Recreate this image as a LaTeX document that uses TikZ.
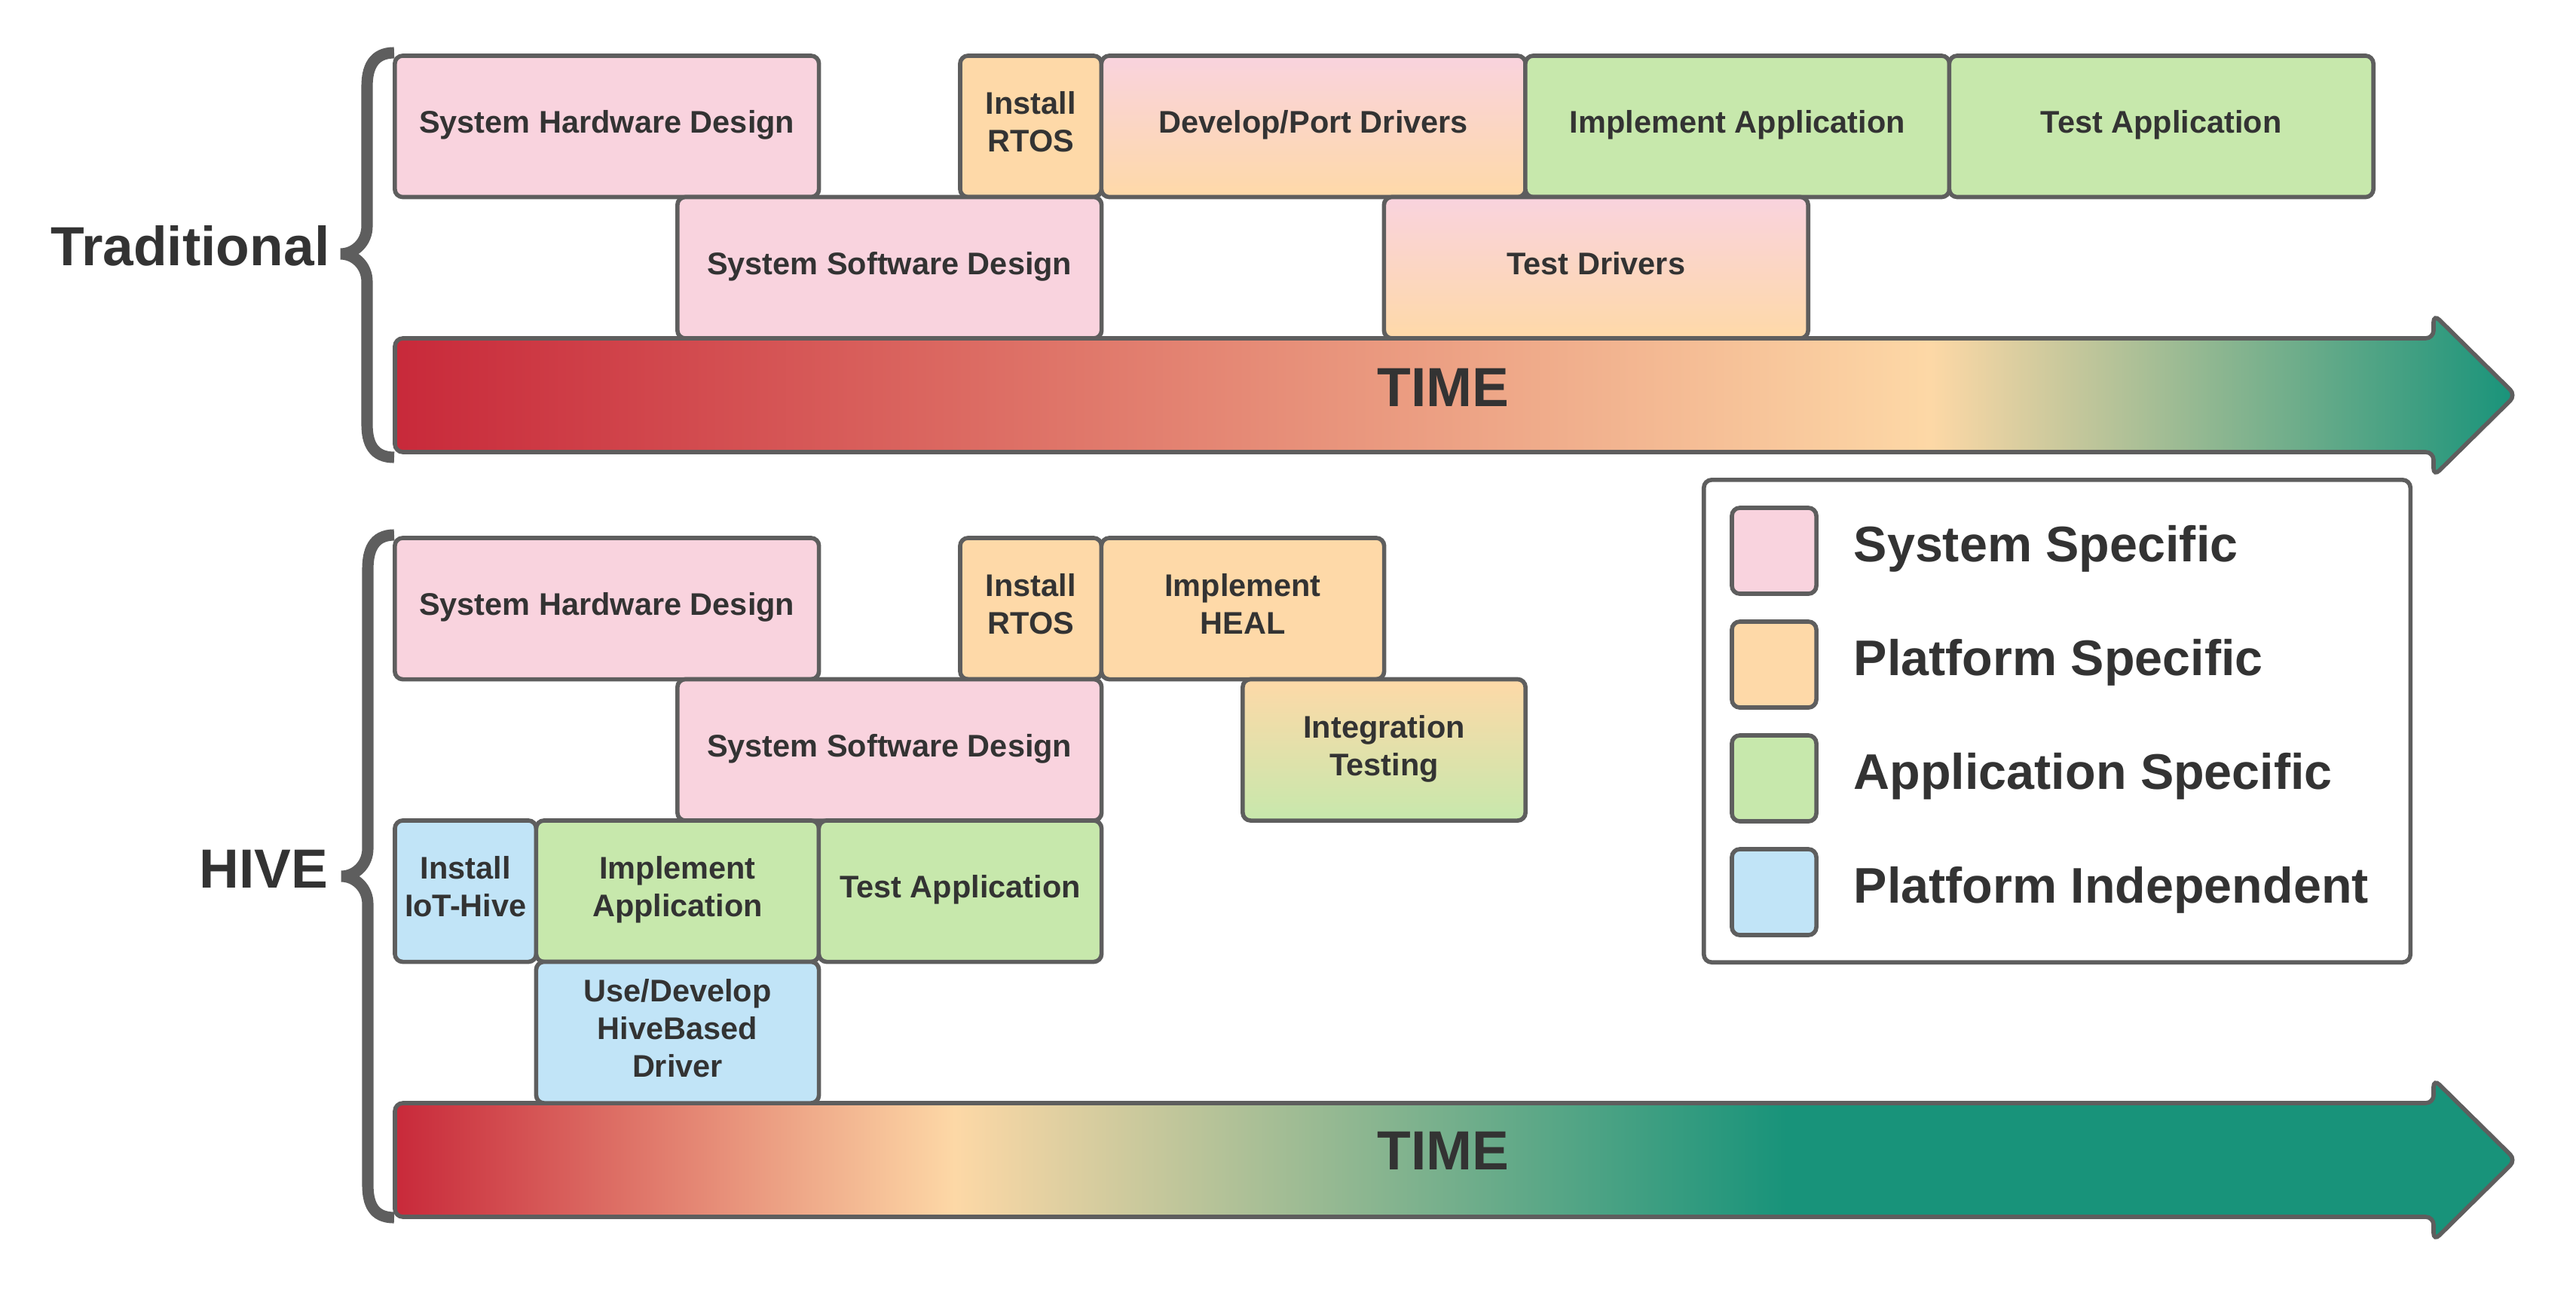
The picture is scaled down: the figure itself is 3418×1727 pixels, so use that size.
\documentclass[tikz,border=0pt]{standalone}
\usepackage{fontspec}
\setmainfont{Liberation Sans}

\definecolor{sysPink}{HTML}{F9D3DE}
\definecolor{platOrange}{HTML}{FED9A8}
\definecolor{appGreen}{HTML}{C7E8AC}
\definecolor{indepBlue}{HTML}{C1E4F7}
\definecolor{lineGray}{HTML}{5E5E5E}
\definecolor{textDark}{HTML}{333333}
\definecolor{timeRed}{HTML}{C8293A}
\definecolor{timePeach}{HTML}{FDD8A6}
\definecolor{timeTeal}{HTML}{18937A}

% time bars: the middle 50bp of each shading spans the arrow
\pgfdeclarehorizontalshading{tradtime}{100bp}{color(0bp)=(timeRed); color(25bp)=(timeRed);
  color(61.2bp)=(timePeach); color(75bp)=(timeTeal); color(100bp)=(timeTeal)}
\pgfdeclarehorizontalshading{hivetime}{100bp}{color(0bp)=(timeRed); color(25bp)=(timeRed);
  color(38.2bp)=(timePeach); color(57.8bp)=(timeTeal); color(100bp)=(timeTeal)}

\begin{document}
\begin{tikzpicture}[x=0.01cm, y=-0.01cm,
  stage/.style={draw=lineGray, line width=1.6pt, rounded corners=3pt,
    minimum height=1.875cm, inner sep=2pt, align=center, text=textDark,
    font=\fontsize{11.8pt}{14.2pt}\selectfont\bfseries,
    execute at end node={\rule[-0.3em]{0pt}{0pt}}},
  w1/.style={minimum width=1.875cm},
  w2/.style={minimum width=3.75cm},
  w3/.style={minimum width=5.625cm},
  bigtext/.style={inner sep=0pt, text=textDark, font=\fontsize{20.8pt}{25pt}\selectfont\bfseries},
  legendtext/.style={inner sep=0pt, text=textDark, font=\fontsize{18.9pt}{22pt}\selectfont\bfseries},
  swatch/.style={draw=lineGray, line width=1.6pt, rounded corners=3pt,
    minimum width=1.12cm, minimum height=1.14cm, inner sep=0pt},
  timebar/.style={draw=lineGray, line width=1.6pt, rounded corners=3pt},
  bracket/.style={draw=lineGray, line width=4.3pt}
]
\useasboundingbox (0,0) rectangle (3418,1727);

% ---------------- Traditional flow ----------------
\node[bigtext, anchor=east] (trad-label) at (438,326) {Traditional};
\path[bracket] (523,70) .. controls (495,70) and (487,90) .. (487,115)
  -- (487,300) .. controls (487,322) and (470,337) .. (452,337)
  .. controls (470,337) and (487,352) .. (487,374)
  -- (487,563) .. controls (487,588) and (495,607) .. (523,607);

\shadedraw[timebar, shading=tradtime] (524,449) -- (3229,449) -- (3229,417)
  -- (3338,524.5) -- (3229,632) -- (3229,600) -- (524,600) -- cycle;
\node[bigtext] (trad-time) at (1915,514) {TIME};

\node[stage, w3, fill=sysPink] (t-hw) at (805.25,167.75) {System Hardware Design};
\node[stage, w1, fill=platOrange] (t-rtos) at (1367.75,167.75) {Install\\RTOS};
\node[stage, w3, top color=sysPink, bottom color=platOrange] (t-drv) at (1742.75,167.75) {Develop/Port Drivers};
\node[stage, w3, fill=appGreen] (t-app) at (2305.25,167.75) {Implement Application};
\node[stage, w3, fill=appGreen] (t-test) at (2867.75,167.75) {Test Application};
\node[stage, w3, fill=sysPink] (t-sw) at (1180.25,355.25) {System Software Design};
\node[stage, w3, top color=sysPink, bottom color=platOrange] (t-tdrv) at (2117.75,355.25) {Test Drivers};

% ---------------- HIVE flow ----------------
\node[bigtext, anchor=east] (hive-label) at (436,1153) {HIVE};
\path[bracket] (523,710) .. controls (495,710) and (488,731) .. (488,756)
  -- (488,1126) .. controls (488,1148) and (471,1163) .. (453,1163)
  .. controls (471,1163) and (488,1178) .. (488,1200)
  -- (488,1572) .. controls (488,1597) and (495,1616) .. (523,1616);

\shadedraw[timebar, shading=hivetime] (524,1464) -- (3229,1464) -- (3229,1432)
  -- (3338,1539.5) -- (3229,1647) -- (3229,1615) -- (524,1615) -- cycle;
\node[bigtext] (hive-time) at (1915,1527) {TIME};

\node[stage, w3, fill=sysPink] (h-hw) at (805.25,807.75) {System Hardware Design};
\node[stage, w1, fill=platOrange] (h-rtos) at (1367.75,807.75) {Install\\RTOS};
\node[stage, w2, fill=platOrange] (h-heal) at (1649,807.75) {Implement\\HEAL};
\node[stage, w3, fill=sysPink] (h-sw) at (1180.25,995.25) {System Software Design};
\node[stage, w2, top color=platOrange, bottom color=appGreen] (h-int) at (1836.5,995.25) {Integration\\Testing};
\node[stage, w1, fill=indepBlue] (h-iot) at (617.75,1182.75) {Install\\IoT-Hive};
\node[stage, w2, fill=appGreen] (h-app) at (899,1182.75) {Implement\\Application};
\node[stage, w2, fill=appGreen] (h-test) at (1274,1182.75) {Test Application};
\node[stage, w2, fill=indepBlue] (h-drv) at (899,1370.25) {Use/Develop\\HiveBased\\Driver};

% ---------------- Legend ----------------
\node[draw=lineGray, line width=1.6pt, rounded corners=3pt, fill=white,
  minimum width=9.37cm, minimum height=6.4cm] (legend) at (2729.5,957) {};
\node[swatch, fill=sysPink] (key-sys) at (2354,731) {};
\node[swatch, fill=platOrange] (key-plat) at (2354,882) {};
\node[swatch, fill=appGreen] (key-app) at (2354,1033) {};
\node[swatch, fill=indepBlue] (key-indep) at (2354,1184) {};
\node[legendtext, anchor=base west] (lbl-sys) at (2459,745.5) {System Specific};
\node[legendtext, anchor=base west] (lbl-plat) at (2459,896.5) {Platform Specific};
\node[legendtext, anchor=base west] (lbl-app) at (2459,1047.5) {Application Specific};
\node[legendtext, anchor=base west] (lbl-indep) at (2459,1198.5) {Platform Independent};
\end{tikzpicture}
\end{document}
